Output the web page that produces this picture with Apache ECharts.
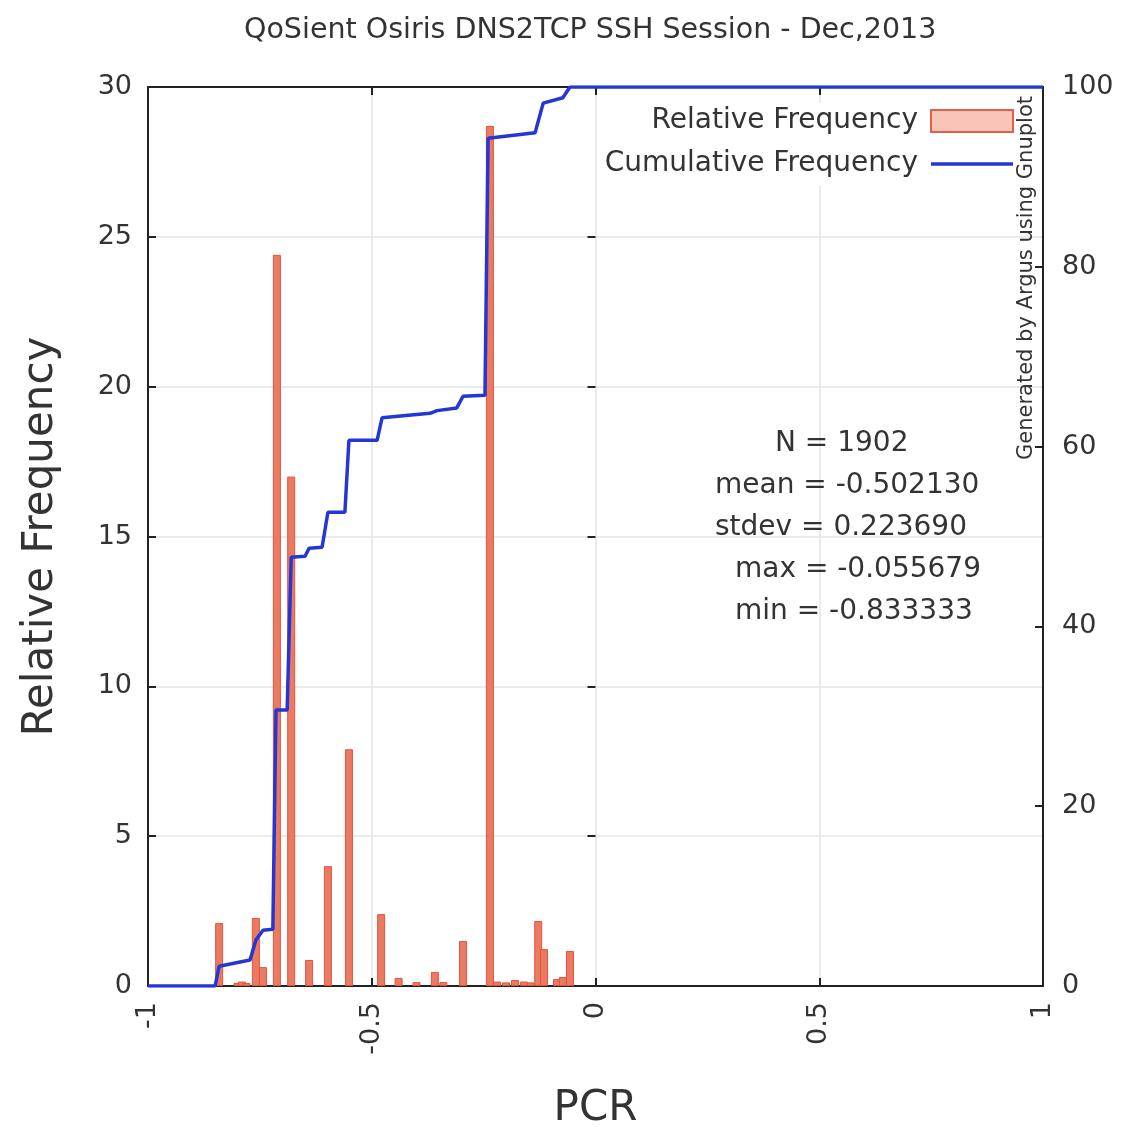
<!DOCTYPE html>
<html>
<head>
<meta charset="utf-8">
<script src="https://cdn.jsdelivr.net/npm/echarts@6/dist/echarts.min.js"></script>
<style>html,body{margin:0;padding:0;background:#fff}#c{width:1121px;height:1131px}</style>
</head>
<body>
<div id="c"></div>
<script>
// Relative frequency histogram (PCR bin centre, percent)
const barX = [-0.841, -0.800, -0.790, -0.780, -0.759, -0.743, -0.712, -0.680, -0.640, -0.598, -0.551,
              -0.479, -0.440, -0.400, -0.359, -0.340, -0.296, -0.236, -0.220, -0.200, -0.180, -0.160,
              -0.145, -0.128, -0.115, -0.086, -0.073, -0.057];
const barY = [2.1, 0.1, 0.15, 0.1, 2.27, 0.63, 24.4, 17.0, 0.87, 4.0, 7.9,
              2.4, 0.27, 0.13, 0.47, 0.13, 1.5, 28.7, 0.15, 0.12, 0.2, 0.15,
              0.12, 2.17, 1.23, 0.23, 0.3, 1.17];
// Cumulative frequency (percent)
const cumX = [-1, -0.850, -0.841, -0.772, -0.759, -0.743, -0.721, -0.714, -0.689, -0.680, -0.649,
              -0.640, -0.611, -0.598, -0.560, -0.551, -0.488, -0.477, -0.370, -0.354, -0.310,
              -0.296, -0.247, -0.240, -0.135, -0.117, -0.073, -0.057, 1];
const cumY = [0, 0, 2.2, 2.9, 5.1, 6.2, 6.3, 30.7, 30.7, 47.7, 47.8,
              48.7, 48.8, 52.7, 52.7, 60.7, 60.7, 63.2, 63.7, 64.0, 64.3,
              65.6, 65.7, 94.3, 94.9, 98.2, 98.8, 100, 100];
const xTicks = [-1, -0.5, 0, 0.5, 1];
const statLines = ['N = 1902', 'mean = -0.502130', 'stdev = 0.223690', 'max = -0.055679', 'min = -0.833333'];
const statLeft = [775, 715, 715, 735, 735];

const FONT = 'DejaVu Sans, Verdana, sans-serif';
const TXT = '#333';
const chart = echarts.init(document.getElementById('c'), null, {renderer: 'canvas'});

const grid = {left: 148, right: 78, top: 87, bottom: 145, outerBoundsMode: 'none', containLabel: false};

const option = {
  backgroundColor: '#fff',
  animation: false,
  title: {
    text: 'QoSient Osiris DNS2TCP SSH Session - Dec,2013',
    left: 239, top: 11,
    textStyle: {fontFamily: FONT, fontSize: 28.5, fontWeight: 'normal', color: TXT}
  },
  grid: grid,
  legend: {
    orient: 'vertical', right: 105, top: 103, align: 'right',
    itemWidth: 82, itemHeight: 22, itemGap: 15,
    backgroundColor: '#fff', padding: [4, 2, 8, 6],
    textStyle: {fontFamily: FONT, fontSize: 28, color: TXT, padding: [0, 8, 0, 0]},
    data: [
      {name: 'Relative Frequency', icon: 'rect', itemStyle: {color: '#f9c4b8', borderColor: '#e06048', borderWidth: 2}},
      {name: 'Cumulative Frequency', icon: 'path://M0,0 H82 V3.5 H0 Z', itemStyle: {color: '#2436d4'}}
    ]
  },
  xAxis: [{
    type: 'value', min: -1, max: 1, interval: 0.5, position: 'bottom',
    axisLine: {show: true, onZero: false, lineStyle: {color: '#222', width: 2}},
    axisTick: {show: true, inside: true, length: 8, lineStyle: {color: '#222', width: 2}},
    axisLabel: {rotate: 90, margin: 16, fontFamily: FONT, fontSize: 27, color: TXT,
      formatter: v => (xTicks.indexOf(v) >= 0 ? String(v) : '')},
    splitLine: {show: true, lineStyle: {color: '#e4e4e4', width: 1.5}},
    name: 'PCR', nameLocation: 'middle', nameGap: 102,
    nameTextStyle: {fontFamily: FONT, fontSize: 42, color: TXT}
  }, {
    type: 'value', min: -1, max: 1, interval: 0.5, position: 'top',
    axisLine: {show: true, onZero: false, lineStyle: {color: '#222', width: 2}},
    axisTick: {show: true, inside: true, length: 8, lineStyle: {color: '#222', width: 2}},
    axisLabel: {show: false}, splitLine: {show: false}
  }],
  yAxis: [{
    type: 'value', min: 0, max: 30, interval: 5, position: 'left',
    axisLine: {show: true, onZero: false, lineStyle: {color: '#222', width: 2}},
    axisTick: {show: true, inside: true, length: 8, lineStyle: {color: '#222', width: 2}},
    axisLabel: {margin: 16, fontFamily: FONT, fontSize: 27, color: TXT},
    splitLine: {show: true, lineStyle: {color: '#e4e4e4', width: 1.5}},
    name: 'Relative Frequency', nameLocation: 'middle', nameGap: 86,
    nameTextStyle: {fontFamily: FONT, fontSize: 42, color: TXT}
  }, {
    type: 'value', min: 0, max: 100, interval: 20, position: 'right',
    axisLine: {show: true, onZero: false, lineStyle: {color: '#222', width: 2}},
    axisTick: {show: true, inside: true, length: 8, lineStyle: {color: '#222', width: 2}},
    axisLabel: {margin: 19, fontFamily: FONT, fontSize: 27, color: TXT},
    splitLine: {show: false}
  }, {
    type: 'value', min: 0, max: 30, interval: 5, position: 'right',
    axisLine: {show: false},
    axisTick: {show: true, inside: true, length: 8, lineStyle: {color: '#222', width: 2}},
    axisLabel: {show: false}, splitLine: {show: false}
  }],
  series: [{
    name: 'Relative Frequency', type: 'bar', xAxisIndex: 0, yAxisIndex: 0,
    barWidth: 8,
    itemStyle: {color: '#ea7a62', borderColor: '#e0553c', borderWidth: 1},
    data: barX.map((x, i) => [x, barY[i]]),
    z: 2
  }, {
    name: 'Cumulative Frequency', type: 'line', xAxisIndex: 0, yAxisIndex: 1,
    symbol: 'none', lineStyle: {color: '#2436d4', width: 3.5}, itemStyle: {color: '#2436d4'},
    data: cumX.map((x, i) => [x, cumY[i]]),
    z: 3
  }],
  graphic: statLines.map((t, i) => ({
    type: 'text', left: statLeft[i], top: 430 + i * 42, z: 10,
    style: {text: t, fontFamily: FONT, fontSize: 28, fill: TXT}
  })).concat([{
    type: 'text', x: 1027, y: 278, rotation: Math.PI / 2, z: 10,
    style: {text: 'Generated by Argus using Gnuplot', fontFamily: FONT, fontSize: 21, fill: TXT,
      align: 'center', verticalAlign: 'middle'}
  }])
};
chart.setOption(option);
</script>
</body>
</html>
